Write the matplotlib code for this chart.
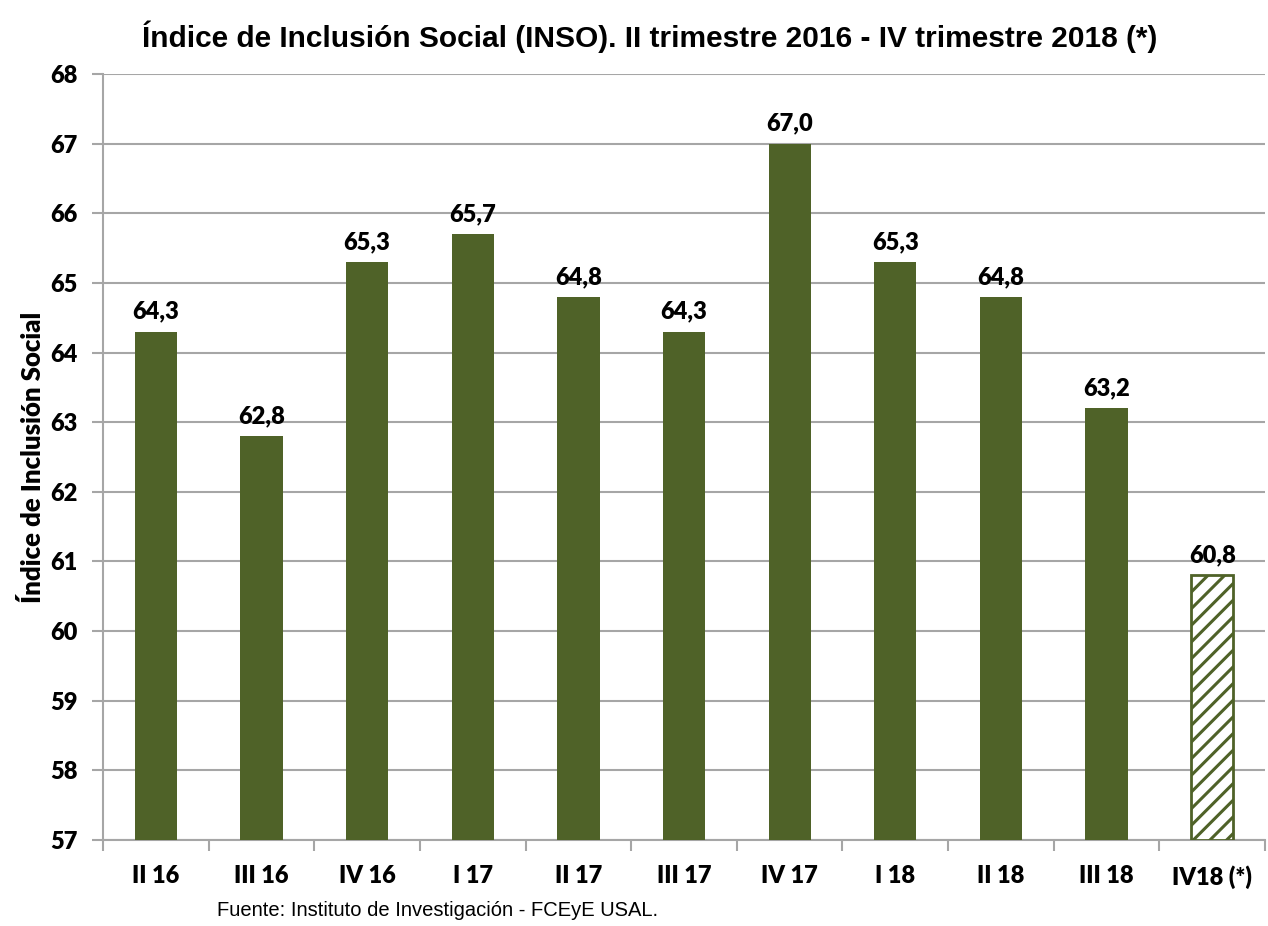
import numpy as np
import matplotlib.pyplot as plt

plt.rcParams['font.family'] = ['Lato', 'DejaVu Sans']

# data
quarters = ['II 16', 'III 16', 'IV 16', 'I 17', 'II 17', 'III 17', 'IV 17',
            'I 18', 'II 18', 'III 18', 'IV18 (*)']
inso = [64.3, 62.8, 65.3, 65.7, 64.8, 64.3, 67.0, 65.3, 64.8, 63.2, 60.8]
estimated = [False]*10 + [True]

green = '#4F6228'
grid_c = '#A6A6A6'
plt.rcParams['hatch.color'] = green
plt.rcParams['hatch.linewidth'] = 2.2

fig = plt.figure(figsize=(12.68, 9.26), dpi=100)
ax = fig.add_axes([0.0812, 0.0929, 0.9165, 0.8271])

x = np.arange(len(quarters))
base = 57
for xi, v, est in zip(x, inso, estimated):
    if est:
        ax.bar(xi, v - base, bottom=base, width=0.4, facecolor='white',
               edgecolor=green, hatch='//', linewidth=2, zorder=3)
    else:
        ax.bar(xi, v - base, bottom=base, width=0.4, color=green, zorder=3)
    ax.text(xi, v + 0.13, f'{v:.1f}'.replace('.', ','), ha='center',
            va='bottom', fontsize=17, fontweight='heavy')

ax.set_xlim(-0.5, len(quarters) - 0.5)
ax.set_ylim(57, 68)
ax.set_yticks(range(57, 69))
ax.yaxis.grid(True, color=grid_c, linewidth=1.5, zorder=0)
ax.set_xticks(x)
ax.set_xticklabels(quarters, fontsize=17, fontweight='heavy')
ax.set_xticks(np.arange(-0.5, len(quarters)), minor=True)
ax.tick_params(axis='x', which='major', length=0, pad=18)
ax.tick_params(axis='x', which='minor', length=8, color=grid_c, width=1.5)
ax.tick_params(axis='y', length=8, color=grid_c, width=1.5, labelsize=17, pad=10)
for t in ax.get_yticklabels():
    t.set_fontweight('heavy')
for s in ['top', 'right']:
    ax.spines[s].set_visible(False)
ax.spines['left'].set_color(grid_c)
ax.spines['bottom'].set_color(grid_c)
ax.spines['left'].set_linewidth(1.5)
ax.spines['bottom'].set_linewidth(1.5)

ax.set_ylabel('Índice de Inclusión Social', fontsize=18.5, fontweight='heavy',
              labelpad=4)
fig.text(0.5126, 0.96, 'Índice de Inclusión Social (INSO). II trimestre 2016 - IV trimestre 2018 (*)',
         ha='center', va='center', fontsize=21.5, fontweight='bold',
         family=['Liberation Sans', 'DejaVu Sans'])
fig.text(0.171, 0.017, 'Fuente: Instituto de Investigación - FCEyE USAL.',
         ha='left', va='center', fontsize=14.5, family=['Liberation Sans', 'DejaVu Sans'])

fig.savefig('out.png', dpi=100)
